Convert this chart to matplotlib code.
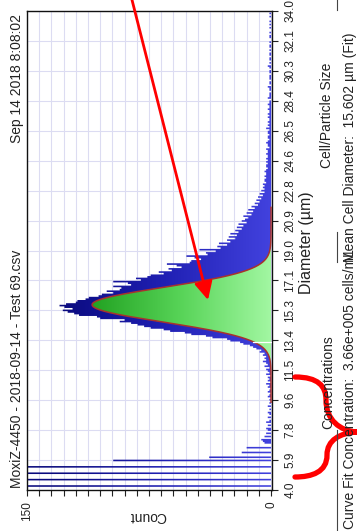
import numpy as np
import matplotlib.pyplot as plt
from matplotlib.path import Path
from matplotlib.patches import PathPatch, FancyArrowPatch
from matplotlib.lines import Line2D
from matplotlib.colors import LinearSegmentedColormap

plt.rcParams['font.family'] = ['Liberation Sans', 'DejaVu Sans']

W, H = 357, 531
TEXT = '#222222'

# Histogram counts, 0.1 um bins starting at 4.0 um (one row per um)
BIN_START = 4.0
BIN_WIDTH = 0.1
counts = [
    0, 0, 160, 0, 0, 0, 170, 0, 0, 0,          # 4
    160, 0, 0, 0, 155, 0, 0, 0, 97, 0,         # 5
    38, 0, 0, 18, 0, 0, 15, 0, 0, 4,           # 6
    5, 6, 0, 4, 0, 3, 0, 2, 3, 0,              # 7
    2, 0, 3, 1, 0, 2, 0, 1, 2, 0,              # 8
    1, 0, 2, 0, 1, 0, 1, 0, 2, 1,              # 9
    0, 2, 1, 0, 2, 1, 3, 0, 2, 1,              # 10
    2, 0, 3, 1, 2, 3, 1, 4, 2, 3,              # 11
    5, 3, 4, 3, 5, 4, 7, 6, 9, 11,             # 12
    13, 17, 19, 25, 27, 36, 40, 49, 53, 62,    # 13
    66, 74, 78, 82, 86, 93, 90, 105, 107, 118,  # 14
    121, 125, 128, 122, 127, 130, 126, 120, 119, 114,  # 15
    112, 106, 104, 97, 101, 93, 92, 97, 86, 88,  # 16
    97, 80, 83, 76, 74, 66, 69, 61, 63, 55,    # 17
    58, 64, 50, 49, 43, 47, 52, 39, 40, 34,    # 18
    44, 31, 33, 27, 32, 25, 27, 22, 26, 21,    # 19
    25, 20, 22, 18, 21, 17, 20, 15, 18, 16,    # 20
    14, 17, 12, 15, 11, 14, 10, 12, 8, 10,     # 21
    7, 9, 6, 8, 5, 7, 4, 6, 4, 5,              # 22
    4, 5, 3, 4, 4, 3, 4, 3, 3, 4,              # 23
    3, 2, 3, 3, 2, 3, 2, 3, 2, 2,              # 24
    3, 2, 2, 3, 1, 2, 2, 3, 2, 1,              # 25
    2, 2, 1, 2, 2, 1, 3, 1, 2, 1,              # 26
    2, 1, 1, 2, 1, 2, 1, 1, 2, 1,              # 27
    1, 2, 1, 1, 0, 2, 1, 1, 1, 0,              # 28
    1, 1, 2, 0, 1, 1, 0, 1, 1, 1,              # 29
    0, 1, 1, 0, 1, 2, 0, 1, 0, 1,              # 30
    1, 0, 1, 1, 0, 1, 0, 1, 1, 0,              # 31
    1, 0, 0, 1, 1, 0, 1, 0, 0, 1,              # 32
    0, 1, 0, 1, 0, 0, 1, 0, 1, 0,              # 33
]

diameter_labels = ['4.0', '5.9', '7.8', '9.6', '11.5', '13.4', '15.3', '17.1', '19.0',
                   '20.9', '22.8', '24.6', '26.5', '28.4', '30.3', '32.1', '34.0']
D_MIN, D_MAX = 4.0, 34.0
COUNT_MAX = 150
COUNT_STEP = 7.5

# Curve fit
MEAN_DIAM = 15.602
FIT_PEAK = 110
FIT_SIGMA = 1.08
FIT_RANGE = (9.5, 21.7)
GATE_DIAM = 13.3


def px(x, y):
    """pixel position (top-left origin) -> figure fraction"""
    return x / W, 1 - y / H


fig = plt.figure(figsize=(W / 100, H / 100), dpi=100)
ax = fig.add_axes([27 / W, 1 - 490 / H, 245 / W, 479 / H])

# grid behind everything
ax.set_axisbelow(True)
ax.grid(True, color='#dcdcf2', lw=0.8)

# histogram bars, filled with a blue gradient (darkest from 130 counts up)
centers = BIN_START + BIN_WIDTH * (np.arange(len(counts)) + 0.5)
bars = ax.barh(centers, counts, height=BIN_WIDTH, color='none', linewidth=0)
bar_path = Path.make_compound_path(
    *[b.get_path().transformed(b.get_patch_transform()) for b in bars])
blue_grad = np.clip(np.linspace(0, COUNT_MAX, 300) / 130, 0, 1).reshape(1, -1)
blue_cmap = LinearSegmentedColormap.from_list('hist', ['#4242de', '#2020b4', '#0a0a7e'])
im = ax.imshow(blue_grad, extent=[0, COUNT_MAX, D_MIN, D_MAX], aspect='auto',
               cmap=blue_cmap, vmin=0, vmax=1, origin='lower', zorder=2,
               interpolation='bilinear')
im.set_clip_path(bar_path, ax.transData)

# fitted curve, green gradient fill
d_fit = np.linspace(FIT_RANGE[0], FIT_RANGE[1], 800)
fit = FIT_PEAK * np.exp(-0.5 * ((d_fit - MEAN_DIAM) / FIT_SIGMA) ** 2)
verts = np.vstack([np.column_stack([fit, d_fit]), [[0, d_fit[-1]], [0, d_fit[0]], [fit[0], d_fit[0]]]])
codes = [Path.MOVETO] + [Path.LINETO] * (len(verts) - 2) + [Path.CLOSEPOLY]
green_path = Path(verts, codes)
green_grad = np.linspace(0, 1, 256).reshape(1, -1)
green_cmap = LinearSegmentedColormap.from_list('fit', ['#a2f7a2', '#58d458', '#22a222'])
im2 = ax.imshow(green_grad, extent=[0, FIT_PEAK, D_MIN, D_MAX], aspect='auto',
                cmap=green_cmap, origin='lower', zorder=3, interpolation='bilinear')
im2.set_clip_path(green_path, ax.transData)
ax.plot(fit, d_fit, color='#a8322d', lw=1.1, zorder=4, clip_on=False)

gate_count = FIT_PEAK * np.exp(-0.5 * ((GATE_DIAM - MEAN_DIAM) / FIT_SIGMA) ** 2)
ax.plot([0, gate_count], [GATE_DIAM, GATE_DIAM], color='white', lw=0.9, zorder=4)

# axes
ax.set_xlim(COUNT_MAX, -0.6)
ax.set_ylim(D_MIN, D_MAX)
xt = np.arange(0, COUNT_MAX + 0.1, COUNT_STEP)
ax.set_xticks(xt, ['0' if v == 0 else ('150' if v == COUNT_MAX else '') for v in xt])
ax.set_yticks(np.linspace(D_MIN, D_MAX, len(diameter_labels)), diameter_labels)
ax.yaxis.tick_right()
ax.tick_params(axis='x', direction='out', length=4, width=0.8, color=TEXT,
               labelsize=8.5, labelcolor=TEXT, labelrotation=90, pad=4)
ax.tick_params(axis='y', direction='out', length=4, width=0.8, color=TEXT,
               labelsize=8.5, labelcolor=TEXT, labelrotation=90, pad=5)
for lab in ax.get_yticklabels():
    lab.set_va('center')
for s in ax.spines.values():
    s.set_color('#111111')
    s.set_linewidth(1.0)

# titles and labels (rotated layout)
fig.text(*px(17, 14), 'Sep 14 2018 8:08:02', rotation=90, ha='center', va='top',
         fontsize=10, color=TEXT)
fig.text(*px(17, 488), 'MoxiZ-4450 - 2018-09-14 - Test 69.csv', rotation=90,
         ha='center', va='bottom', fontsize=10, color=TEXT)
fig.text(*px(148, 516), 'Count', rotation=180, ha='center', va='center',
         fontsize=10, color=TEXT)
fig.text(*px(306, 243), 'Diameter (µm)', rotation=90, ha='center', va='center',
         fontsize=11.5, color=TEXT)

# results panels
fig.text(*px(327, 115), 'Cell/Particle Size', rotation=90, ha='center', va='center',
         fontsize=10, color=TEXT)
fig.text(*px(350, 262), 'Mean Cell Diameter:  15.602 µm (Fit)', rotation=90,
         ha='center', va='bottom', fontsize=10, color=TEXT)
fig.text(*px(328, 382), 'Concentrations', rotation=90, ha='center', va='center',
         fontsize=10, color=TEXT)
fig.text(*px(350, 529), 'Curve Fit Concentration:  3.66e+005 cells/mL', rotation=90,
         ha='center', va='bottom', fontsize=10, color=TEXT)
for y0, y1 in [(430, 531), (232, 262), (0, 10)]:
    (x0, fy0), (_, fy1) = px(337, y0), px(337, y1)
    fig.add_artist(Line2D([x0, x0], [fy0, fy1], transform=fig.transFigure,
                          color='#444444', lw=0.8))

# red markup: arrow into the fitted peak and brace over the concentration readout
fig.add_artist(FancyArrowPatch(px(130, -8), px(208, 300), transform=fig.transFigure,
                               arrowstyle='-|>,head_length=1.1,head_width=0.55',
                               mutation_scale=10, color='#ff0000', lw=2.0,
                               shrinkA=0, shrinkB=0))
brace_pts = [(295, 377), (318, 377), (326, 386), (326, 400),
             (326, 420), (340, 431), (357, 432),
             (340, 433), (327, 440), (327, 455),
             (327, 472), (312, 477), (295, 477)]
brace_codes = [Path.MOVETO] + [Path.CURVE4] * 12
brace = Path([px(*p) for p in brace_pts], brace_codes)
fig.add_artist(PathPatch(brace, transform=fig.transFigure, facecolor='none',
                         edgecolor='#ff0000', lw=3.8, capstyle='round', joinstyle='round'))

fig.savefig('out.png', dpi=100)
